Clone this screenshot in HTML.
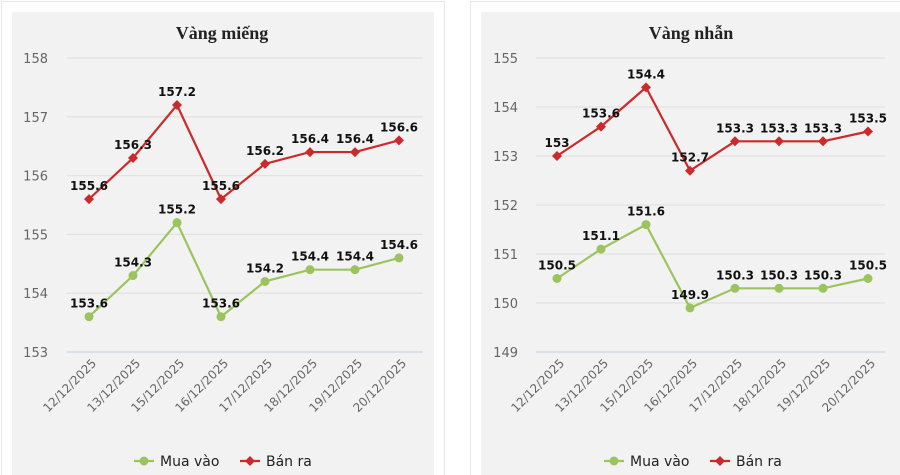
<!DOCTYPE html>
<html><head><meta charset="utf-8"><style>
html,body{margin:0;padding:0;background:#fff;width:900px;height:475px;overflow:hidden}
svg{display:block}
</style></head><body>
<svg id="s" width="900" height="475" xmlns="http://www.w3.org/2000/svg" font-family="DejaVu Sans, Liberation Sans, sans-serif">
<rect x="1.5" y="1.5" width="443" height="480" fill="#fff" stroke="#e6e6e6"/>
<rect x="12" y="12" width="422" height="470" fill="#f2f2f2"/>
<rect x="470.5" y="1.5" width="440" height="480" fill="#fff" stroke="#e6e6e6"/>
<rect x="481" y="12" width="430" height="470" fill="#f2f2f2"/>
<text x="222" y="39" text-anchor="middle" font-family="Liberation Serif, serif" font-weight="bold" font-size="18" fill="#222">Vàng miếng</text>
<text x="691" y="39" text-anchor="middle" font-family="Liberation Serif, serif" font-weight="bold" font-size="18" fill="#222">Vàng nhẫn</text>
<g id="g"></g>
</svg>
<script>
var g=document.getElementById('g'),h='';
var dates=['12/12/2025','13/12/2025','15/12/2025','16/12/2025','17/12/2025','18/12/2025','19/12/2025','20/12/2025'];
function chart(o){
 var i,y;
 for(i=0;i<=o.n;i++){y=o.y0+i*o.ppu;var v=o.top-i;
  h+='<line x1="'+o.gx1+'" x2="'+o.gx2+'" y1="'+y+'" y2="'+y+'" stroke="'+(i==o.n?'#c8d6e8':'#e2e2e2')+'" stroke-width="1.3"/>';
  h+='<text x="'+o.lx+'" y="'+(y+5)+'" text-anchor="end" font-size="13" fill="#666">'+v+'</text>';}
 function Y(v){return o.y0+(o.top-v)*o.ppu;}
 [[o.buy,'#9bc45e',0],[o.sell,'#cc2a2a',1]].forEach(function(s){
  var pts=s[0].map(function(v,k){return o.xs[k]+','+Y(v)}).join(' ');
  h+='<polyline points="'+pts+'" fill="none" stroke="'+s[1]+'" stroke-width="2.2"/>';
  s[0].forEach(function(v,k){var x=o.xs[k],yy=Y(v);
   if(s[2])h+='<path d="M'+x+' '+(yy-5)+'L'+(x+5)+' '+yy+'L'+x+' '+(yy+5)+'L'+(x-5)+' '+yy+'Z" fill="'+s[1]+'"/>';
   else h+='<circle cx="'+x+'" cy="'+yy+'" r="4.5" fill="'+s[1]+'"/>';
   h+='<text x="'+x+'" y="'+(yy-9)+'" text-anchor="middle" font-size="12" font-weight="bold" fill="#111">'+v+'</text>';});
 });
 o.xs.forEach(function(x,k){h+='<text transform="translate('+(x+8)+',364) rotate(-45)" text-anchor="end" font-size="12" fill="#666">'+dates[k]+'</text>';});
 var L=o.leg;
 h+='<line x1="'+L+'" x2="'+(L+20)+'" y1="461" y2="461" stroke="#9bc45e" stroke-width="2.2"/><circle cx="'+(L+10)+'" cy="461" r="4.5" fill="#9bc45e"/>';
 h+='<text x="'+(L+26)+'" y="466" font-size="14" fill="#222">Mua vào</text>';
 var R=L+106;
 h+='<line x1="'+R+'" x2="'+(R+20)+'" y1="461" y2="461" stroke="#cc2a2a" stroke-width="2.2"/><path d="M'+(R+10)+' 456L'+(R+15)+' 461L'+(R+10)+' 466L'+(R+5)+' 461Z" fill="#cc2a2a"/>';
 h+='<text x="'+(R+26)+'" y="466" font-size="14" fill="#222">Bán ra</text>';
}
chart({top:158,n:5,y0:58,ppu:58.8,gx1:67,gx2:423,lx:48,xs:[89,133,177,221,265,310,355,399],
 buy:[153.6,154.3,155.2,153.6,154.2,154.4,154.4,154.6],sell:[155.6,156.3,157.2,155.6,156.2,156.4,156.4,156.6],leg:134});
chart({top:155,n:6,y0:58,ppu:49,gx1:536,gx2:885,lx:518,xs:[557,601,646,690,735,779,823,868],
 buy:[150.5,151.1,151.6,149.9,150.3,150.3,150.3,150.5],sell:[153,153.6,154.4,152.7,153.3,153.3,153.3,153.5],leg:604});
g.innerHTML=h;
</script>
</body></html>
